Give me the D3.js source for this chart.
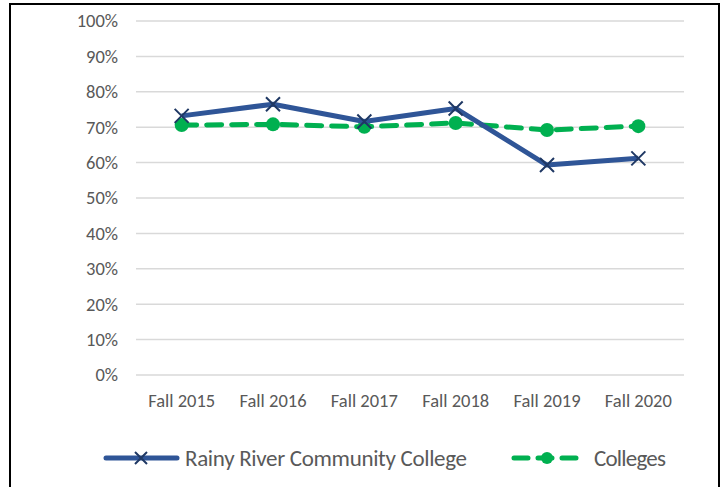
<!DOCTYPE html>
<html>
<head>
<meta charset="utf-8">
<script src="https://cdn.jsdelivr.net/npm/d3@7"></script>
<style>
  body { margin: 0; background: #fff; }
  svg { display: block; }
  text { font-family: Calibri, Carlito, "Open Sans", sans-serif; fill: #595959; }
</style>
</head>
<body>
<svg id="chart" width="726" height="487"></svg>
<script>
const years = ['Fall 2015', 'Fall 2016', 'Fall 2017', 'Fall 2018', 'Fall 2019', 'Fall 2020']
const rainyRiver = [0.732, 0.765, 0.716, 0.753, 0.593, 0.612]
const colleges = [0.706, 0.708, 0.701, 0.712, 0.692, 0.703]
const yTicks = [0, 0.1, 0.2, 0.3, 0.4, 0.5, 0.6, 0.7, 0.8, 0.9, 1]
const seriesNames = ['Rainy River Community College', 'Colleges']

const blue = '#2F5597'
const navy = '#1F3864'
const green = '#00B050'

const svg = d3.select('#chart')

// outer frame, bottom edge runs past the window
svg.append('rect')
  .attr('x', 10).attr('y', 4)
  .attr('width', 709).attr('height', 500)
  .attr('fill', 'none')
  .attr('stroke', '#000')
  .attr('stroke-width', 2)

const x = d3.scalePoint()
  .domain(years)
  .range([136, 684])
  .padding(0.5)

const y = d3.scaleLinear()
  .domain([0, 1])
  .range([375, 21])

// gridlines
svg.append('g')
  .selectAll('line')
  .data(yTicks)
  .enter()
  .append('line')
  .attr('x1', 136).attr('x2', 684)
  .attr('y1', (d) => y(d)).attr('y2', (d) => y(d))
  .attr('stroke', '#d9d9d9')
  .attr('stroke-width', 1.5)

// y labels
svg.append('g')
  .selectAll('text')
  .data(yTicks)
  .enter()
  .append('text')
  .attr('x', 118)
  .attr('y', (d) => y(d))
  .attr('dy', '0.35em')
  .attr('text-anchor', 'end')
  .style('font-size', '18.5px')
  .text(d3.format('.0%'))

// x labels
svg.append('g')
  .selectAll('text')
  .data(years)
  .enter()
  .append('text')
  .attr('x', (d) => x(d))
  .attr('y', 401)
  .attr('dy', '0.35em')
  .attr('text-anchor', 'middle')
  .style('font-size', '18.5px')
  .text((d) => d)

const line = d3.line()
  .x((d, i) => x(years[i]))
  .y((d) => y(d))

const crossPath = (s) => `M ${-s} ${-s} L ${s} ${s} M ${-s} ${s} L ${s} ${-s}`

// colleges (dashed)
svg.append('path')
  .datum(colleges)
  .attr('d', line)
  .attr('fill', 'none')
  .attr('stroke', green)
  .attr('stroke-width', 5)
  .attr('stroke-dasharray', '15 10')
  .attr('stroke-linecap', 'round')

svg.append('g')
  .selectAll('circle')
  .data(colleges)
  .enter()
  .append('circle')
  .attr('cx', (d, i) => x(years[i]))
  .attr('cy', (d) => y(d))
  .attr('r', 7)
  .attr('fill', green)

// rainy river (solid with crosses)
svg.append('path')
  .datum(rainyRiver)
  .attr('d', line)
  .attr('fill', 'none')
  .attr('stroke', blue)
  .attr('stroke-width', 5)
  .attr('stroke-linejoin', 'round')

svg.append('g')
  .selectAll('path')
  .data(rainyRiver)
  .enter()
  .append('path')
  .attr('transform', (d, i) => `translate(${x(years[i])}, ${y(d)})`)
  .attr('d', crossPath(7))
  .attr('stroke', navy)
  .attr('stroke-width', 2)

// legend
const legendY = 458
const lg = svg.append('g')

lg.append('line')
  .attr('x1', 106).attr('x2', 177)
  .attr('y1', legendY).attr('y2', legendY)
  .attr('stroke', blue).attr('stroke-width', 5)
  .attr('stroke-linecap', 'round')
lg.append('path')
  .attr('transform', `translate(141, ${legendY})`)
  .attr('d', crossPath(6))
  .attr('stroke', navy).attr('stroke-width', 2)
lg.append('text')
  .attr('x', 185).attr('y', legendY)
  .attr('dy', '0.35em')
  .attr('textLength', 282)
  .style('font-size', '23px')
  .text(seriesNames[0])

lg.append('line')
  .attr('x1', 514).attr('x2', 578)
  .attr('y1', legendY).attr('y2', legendY)
  .attr('stroke', green).attr('stroke-width', 5)
  .attr('stroke-dasharray', '14 10')
  .attr('stroke-linecap', 'round')
lg.append('circle')
  .attr('cx', 547).attr('cy', legendY)
  .attr('r', 6)
  .attr('fill', green)
lg.append('text')
  .attr('x', 594).attr('y', legendY)
  .attr('dy', '0.35em')
  .attr('textLength', 72)
  .style('font-size', '23px')
  .text(seriesNames[1])
</script>
</body>
</html>
